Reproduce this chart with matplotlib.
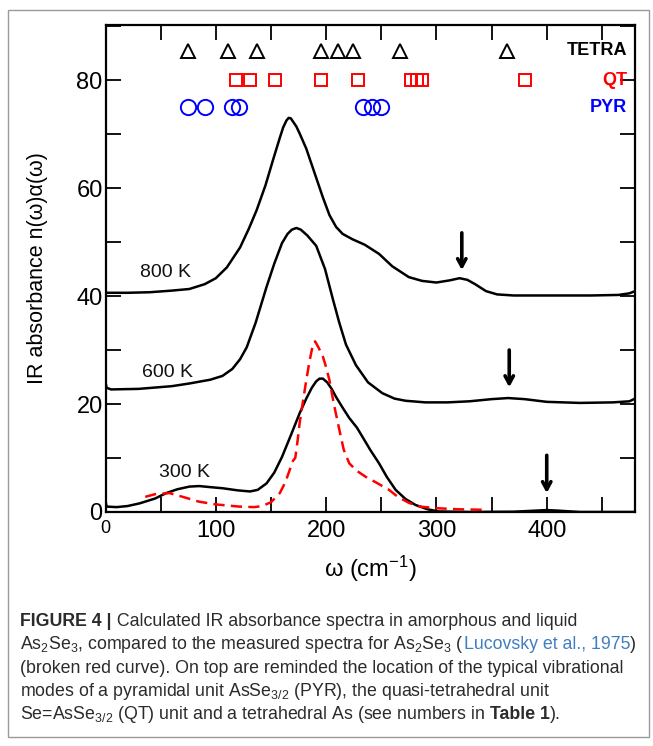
import numpy as np
import matplotlib
matplotlib.use("Agg")
import matplotlib.pyplot as plt
from matplotlib.patches import Rectangle

plt.rcParams['font.family'] = ['Liberation Sans', 'DejaVu Sans']
plt.rcParams['mathtext.fontset'] = 'custom'
plt.rcParams['mathtext.rm'] = 'Liberation Sans'
plt.rcParams['mathtext.it'] = 'Liberation Sans:italic'
plt.rcParams['mathtext.bf'] = 'Liberation Sans:bold'

# spectres calcules
w800 = [0, 20, 40, 60, 76, 90, 100, 110, 122, 130, 137, 145, 152, 158, 161, 164, 166, 168, 170,
        173, 176, 182, 190, 197, 203, 209, 215, 224, 235, 248, 260, 275, 287, 300, 312, 321, 328,
        335, 345, 355, 370, 400, 440, 465, 475, 480]
a800 = [40.6, 40.6, 40.7, 41.0, 41.3, 42.2, 43.3, 45.3, 49.0, 52.5, 55.9, 60.5, 65.3, 69.3,
        71.2, 72.5, 73.0, 72.9, 72.3, 71.4, 70.1, 67.3, 62.5, 58.3, 55.0, 52.8, 51.5, 50.5,
        49.5, 47.8, 45.5, 43.5, 42.8, 42.5, 42.9, 43.3, 43.0, 42.2, 40.9, 40.3, 40.1, 40.1,
        40.1, 40.2, 40.5, 40.9]

w600 = [0, 1, 5, 30, 60, 76, 95, 106, 115, 122, 128, 136, 146, 153, 160, 165, 169, 173, 177,
        183, 191, 199, 206, 212, 218, 227, 238, 251, 262, 272, 290, 310, 330, 350, 365, 380,
        400, 430, 460, 475, 480]
a600 = [24.0, 23.0, 22.7, 22.8, 23.3, 23.8, 24.5, 25.2, 26.5, 28.3, 30.5, 35.0, 41.7, 46.0,
        49.8, 51.5, 52.3, 52.6, 52.3, 51.2, 49.3, 45.0, 39.5, 35.0, 31.0, 27.2, 24.0, 22.0,
        21.0, 20.6, 20.3, 20.3, 20.5, 20.9, 21.1, 20.9, 20.4, 20.2, 20.3, 20.5, 21.0]

w300 = [0, 1, 10, 20, 31, 45, 55, 65, 76, 85, 95, 106, 120, 131, 138, 146, 153, 160, 168,
        176, 182, 187, 191, 194, 197, 201, 205, 209, 215, 221, 228, 233, 240, 248, 255, 263,
        272, 281, 292, 302, 330, 370, 390, 400, 410, 430, 480]
a300 = [2.0, 1.0, 0.9, 1.1, 1.6, 2.5, 3.5, 4.2, 4.7, 4.8, 4.6, 4.4, 4.0, 3.8, 4.1, 5.3, 7.3,
        10.2, 14.2, 18.3, 21.0, 23.0, 24.2, 24.7, 24.7, 24.0, 22.8, 21.3, 19.3, 17.4, 15.6,
        13.9, 11.5, 9.0, 6.5, 4.1, 2.4, 1.3, 0.5, 0.1, 0.0, 0.05, 0.25, 0.35, 0.25, 0.0, 0.0]

# spectre mesure (Lucovsky et al., 1975)
wexp = [36, 45, 58, 70, 85, 100, 121, 135, 142, 150, 158, 163, 167, 170, 172, 174, 176, 179,
        182, 185, 188, 190, 193, 197, 200, 203, 207, 212, 216, 221, 228, 236, 245, 257, 265,
        275, 285, 300, 320, 345]
aexp = [2.8, 3.3, 3.5, 2.8, 1.9, 1.4, 1.0, 0.9, 1.1, 1.8, 3.5, 5.5, 7.8, 9.5, 10.0, 13.0,
        16.5, 20.5, 24.4, 28.0, 31.0, 31.6, 30.5, 28.8, 26.8, 24.4, 20.0, 15.2, 11.5, 9.0,
        7.6, 6.5, 5.5, 4.1, 2.8, 1.7, 1.0, 0.7, 0.5, 0.4]

# modes de vibration
tetra = [75, 111, 137, 195, 211, 224, 267, 364]
qt = [118, 131, 154, 195, 229, 277, 282, 287, 380]
pyr = [74.5, 90, 115, 121, 233, 242, 250]

# fleches et etiquettes
fleches = [(323, 51.7, 44.8), (366, 30.0, 23.1), (400, 10.5, 3.5)]
etiquettes = [("800 K", 54, 44.4), ("600 K", 56.5, 25.9), ("300 K", 72, 7.4)]


def texte_suite(fig, x, y, morceaux, taille):
    # ecrit des morceaux de texte les uns a la suite des autres
    rend = fig.canvas.get_renderer()
    for txt, poids, coul in morceaux:
        t = fig.text(x, y, txt, fontsize=taille, fontweight=poids, color=coul,
                     va='baseline', ha='left')
        bb = t.get_window_extent(renderer=rend)
        x += bb.width / fig.bbox.width


def main():
    fig = plt.figure(figsize=(6.53, 7.46), dpi=100)
    ax = fig.add_axes([0.1616, 0.3137, 0.8108, 0.6528])

    ax.plot(w800, a800, color="black", lw=1.8)
    ax.plot(w600, a600, color="black", lw=1.8)
    ax.plot(w300, a300, color="black", lw=1.8)
    ax.plot(wexp, aexp, color="red", lw=1.8, dashes=(4.5, 2.5))

    ax.plot(tetra, [85.3] * len(tetra), "^", mfc="none", mec="black", ms=10, mew=1.4)
    ax.plot(qt, [80] * len(qt), "s", mfc="none", mec="red", ms=9, mew=1.4)
    ax.plot(pyr, [75] * len(pyr), "o", mfc="none", mec="blue", ms=11, mew=1.4)
    ax.text(473, 85.5, "TETRA", ha="right", va="center", fontsize=13, fontweight="bold", color="black")
    ax.text(473, 80, "QT", ha="right", va="center", fontsize=13, fontweight="bold", color="red")
    ax.text(473, 75, "PYR", ha="right", va="center", fontsize=13, fontweight="bold", color="blue")

    for x, y0, y1 in fleches:
        ax.annotate("", xy=(x, y1), xytext=(x, y0),
                    arrowprops=dict(arrowstyle="->,head_length=0.55,head_width=0.3",
                                    lw=2.6, color="black", shrinkA=0, shrinkB=0))
    for txt, x, y in etiquettes:
        ax.text(x, y, txt, ha="center", va="center", fontsize=14, color="#111111")

    ax.set_xlim(0, 480)
    ax.set_ylim(0, 90.2)
    ax.set_xticks(np.arange(0, 481, 50))
    ax.set_xticklabels(["0", "", "100", "", "200", "", "300", "", "400", ""])
    ax.set_yticks(np.arange(0, 91, 10))
    ax.set_yticklabels(["0", "", "20", "", "40", "", "60", "", "80", ""])
    ax.tick_params(direction="in", length=11, width=1.3, top=True, right=True,
                   labelsize=17)
    ax.tick_params(axis="y", pad=2)
    ax.tick_params(axis="x", pad=6)
    ax.get_xticklabels()[0].set_fontsize(13)
    for s in ax.spines.values():
        s.set_linewidth(1.6)

    ax.set_xlabel("ω (cm$^{-1}$)", fontsize=17)
    ax.set_ylabel("IR absorbance n(ω)α(ω)", fontsize=15.5)
    ax.xaxis.set_label_coords(0.5, -0.085)
    ax.yaxis.set_label_coords(-0.108, 0.5)

    fig.add_artist(Rectangle((8 / 653, 9 / 746), 641 / 653, 727 / 746, fill=False,
                             edgecolor="#9a9a9a", lw=1.0, transform=fig.transFigure))

    gris = "#2b2b2b"
    bleu = "#3f7fc0"
    x0 = 20 / 653
    taille = 12.8
    lignes = [
        [("FIGURE 4 |", "bold", gris), (" Calculated IR absorbance spectra in amorphous and liquid", "normal", gris)],
        [("As$_2$Se$_3$, compared to the measured spectra for As$_2$Se$_3$ (", "normal", gris),
         ("Lucovsky et al., 1975", "normal", bleu), (")", "normal", gris)],
        [("(broken red curve). On top are reminded the location of the typical vibrational", "normal", gris)],
        [("modes of a pyramidal unit AsSe$_{3/2}$ (PYR), the quasi-tetrahedral unit", "normal", gris)],
        [("Se=AsSe$_{3/2}$ (QT) unit and a tetrahedral As (see numbers in", "normal", gris),
         (" Table 1", "bold", gris), (").", "normal", gris)],
    ]
    for i, morceaux in enumerate(lignes):
        ypix = 626 + i * 23.3
        texte_suite(fig, x0, 1 - ypix / 746, morceaux, taille)

    fig.savefig("out.png", dpi=100)


if __name__ == "__main__":
    main()
